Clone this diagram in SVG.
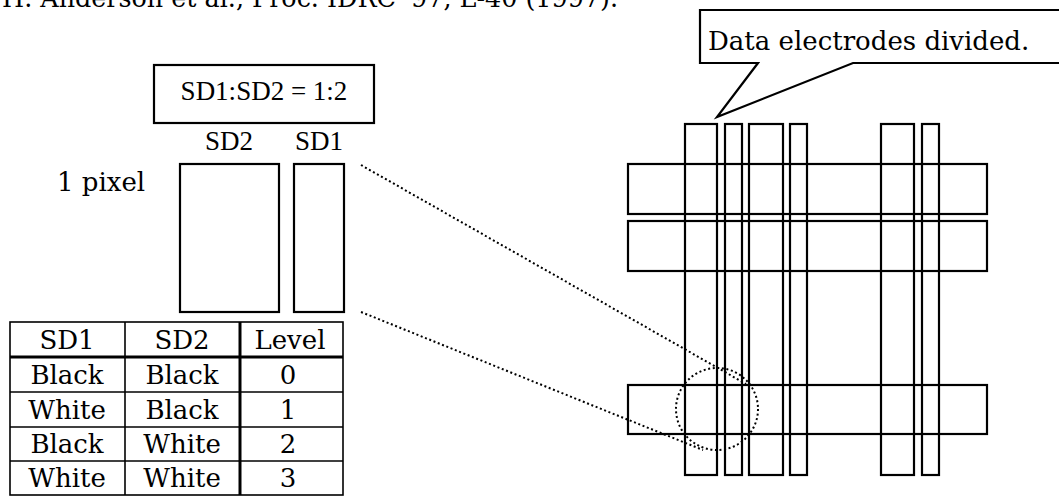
<svg xmlns="http://www.w3.org/2000/svg" width="1059" height="497" viewBox="0 0 1059 497">
<style>
.c{font-family:"DejaVu Serif","Liberation Serif",serif;font-size:26px;fill:#000}
.t{font-family:"Liberation Serif","Times New Roman",serif;font-size:27px;fill:#000}
.m{text-anchor:middle}
.o{fill:none;stroke:#000;stroke-width:2.2}
.g{fill:none;stroke:#000;stroke-width:1.6}
.d{fill:none;stroke:#000;stroke-width:2;stroke-dasharray:2 2.6}
</style>
<rect width="1059" height="497" fill="#fff"/>
<g id="citation"><text class="c" x="2" y="7" textLength="616" lengthAdjust="spacingAndGlyphs">H. Anderson et al., Proc. IDRC '97, L-40 (1997).</text></g>
<g id="ratio-box"><rect class="o" x="154" y="65" width="220" height="58"/><text class="t m" x="264" y="100">SD1:SD2 = 1:2</text></g>
<g id="pixel-label"><text class="c" x="57" y="191">1 pixel</text></g>
<g id="sd2"><text class="t m" x="229" y="150">SD2</text><rect class="o" x="180" y="164" width="99" height="148"/></g>
<g id="sd1"><text class="t m" x="319" y="150">SD1</text><rect class="o" x="294" y="164" width="50" height="148"/></g>
<g id="table">
<rect class="g" x="10" y="322" width="333" height="173"/>
<line class="g" x1="125" y1="322" x2="125" y2="495"/>
<line stroke="#000" stroke-width="3" x1="240" y1="322" x2="240" y2="495"/>
<line stroke="#000" stroke-width="3" x1="10" y1="357" x2="343" y2="357"/>
<line class="g" x1="10" y1="392" x2="343" y2="392"/>
<line class="g" x1="10" y1="427" x2="343" y2="427"/>
<line class="g" x1="10" y1="461" x2="343" y2="461"/>
<text class="c m" x="67" y="349">SD1</text><text class="c m" x="182" y="349">SD2</text><text class="c m" x="290" y="349">Level</text>
<text class="c m" x="67" y="384">Black</text><text class="c m" x="182" y="384">Black</text><text class="c m" x="288" y="384">0</text>
<text class="c m" x="67" y="419">White</text><text class="c m" x="182" y="419">Black</text><text class="c m" x="288" y="419">1</text>
<text class="c m" x="67" y="453">Black</text><text class="c m" x="182" y="453">White</text><text class="c m" x="288" y="453">2</text>
<text class="c m" x="67" y="487">White</text><text class="c m" x="182" y="487">White</text><text class="c m" x="288" y="487">3</text>
</g>
<g id="callout"><path class="o" d="M1062,10 H700 V63 H758 L717,117 L853,63 H1062"/><text class="c" x="708" y="50">Data electrodes divided.</text></g>
<g id="electrodes">
<rect class="o" x="628" y="164" width="359" height="50"/>
<rect class="o" x="628" y="221" width="359" height="50"/>
<rect class="o" x="628" y="385" width="359" height="49"/>
<rect class="o" x="685" y="124" width="32" height="351"/>
<rect class="o" x="725" y="124" width="17" height="351"/>
<rect class="o" x="749" y="124" width="34" height="351"/>
<rect class="o" x="790" y="124" width="17" height="351"/>
<rect class="o" x="881" y="124" width="33" height="351"/>
<rect class="o" x="922" y="124" width="17" height="351"/>
</g>
<g id="magnifier"><circle class="d" cx="717" cy="409" r="41"/></g>
<g id="connectors">
<line class="d" x1="361" y1="165" x2="746" y2="384"/>
<line class="d" x1="361" y1="312" x2="703" y2="450"/>
</g>
</svg>
